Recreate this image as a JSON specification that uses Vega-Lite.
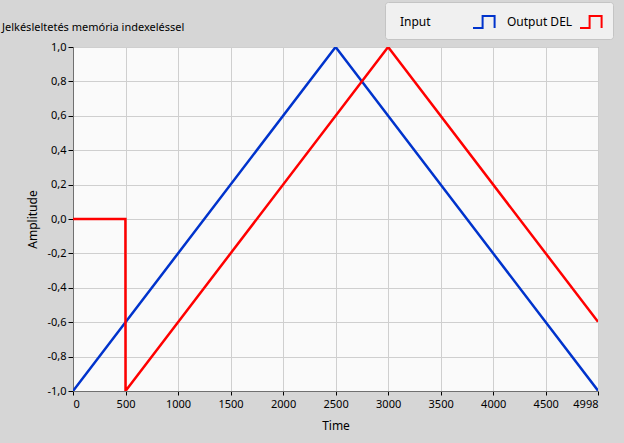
{
  "$schema": "https://vega.github.io/schema/vega-lite/v6.json",
  "width": 525,
  "height": 344,
  "autosize": "none",
  "padding": {"left": 73, "top": 47, "right": 26, "bottom": 52},
  "background": "#d6d6d6",
  "title": {
    "text": "Jelkésleltetés memória indexeléssel",
    "anchor": "start",
    "frame": "group",
    "dx": -71,
    "dy": 45,
    "offset": 14,
    "fontSize": 11,
    "fontWeight": "normal",
    "font": "Noto Sans",
    "color": "#000000"
  },
  "data": {
    "values": [
      {"series": "Input", "t": 0, "v": -1.0, "o": 0},
      {"series": "Input", "t": 2500, "v": 1.0, "o": 1},
      {"series": "Input", "t": 4998, "v": -0.998, "o": 2},
      {"series": "Output DEL", "t": 0, "v": 0.0, "o": 0},
      {"series": "Output DEL", "t": 499, "v": 0.0, "o": 1},
      {"series": "Output DEL", "t": 500, "v": -1.0, "o": 2},
      {"series": "Output DEL", "t": 3000, "v": 1.0, "o": 3},
      {"series": "Output DEL", "t": 4998, "v": -0.598, "o": 4}
    ]
  },
  "mark": {"type": "line", "strokeWidth": 2.5, "clip": true},
  "encoding": {
    "x": {
      "field": "t",
      "type": "quantitative",
      "title": "Time",
      "scale": {"domain": [0, 4998], "nice": false, "zero": false},
      "axis": {
        "values": [0, 500, 1000, 1500, 2000, 2500, 3000, 3500, 4000, 4500, 4998],
        "format": "d",
        "labelFont": "Noto Sans",
        "labelFontSize": 11,
        "labelColor": "#000000",
        "labelPadding": 3,
        "tickColor": "#000000",
        "tickSize": 4,
        "domainColor": "#707070",
        "gridColor": "#cfcfcf",
        "titleFont": "Noto Sans",
        "titleFontSize": 12,
        "titleFontWeight": "normal",
        "titleColor": "#000000",
        "titlePadding": 11
      }
    },
    "y": {
      "field": "v",
      "type": "quantitative",
      "title": "Amplitude",
      "scale": {"domain": [-1, 1], "nice": false},
      "axis": {
        "values": [-1, -0.8, -0.6, -0.4, -0.2, 0, 0.2, 0.4, 0.6, 0.8, 1],
        "labelExpr": "replace((datum.value < -0.0001 ? '-' : '') + format(abs(datum.value), '.1f'), '.', ',')",
        "labelFont": "Noto Sans",
        "labelFontSize": 11,
        "labelColor": "#000000",
        "labelPadding": 2,
        "tickColor": "#000000",
        "tickSize": 5,
        "domainColor": "#707070",
        "gridColor": "#cfcfcf",
        "titleFont": "Noto Sans",
        "titleFontSize": 12,
        "titleFontWeight": "normal",
        "titleColor": "#000000",
        "titlePadding": 7
      }
    },
    "order": {"field": "o", "type": "quantitative"},
    "color": {
      "field": "series",
      "type": "nominal",
      "scale": {"domain": ["Input", "Output DEL"], "range": ["#0033cc", "#ff0000"]},
      "legend": {
        "title": null,
        "orient": "none",
        "legendX": 312,
        "legendY": -45,
        "direction": "horizontal",
        "fillColor": "#f0f0f0",
        "strokeColor": "#c4c4c4",
        "cornerRadius": 3,
        "padding": 7,
        "symbolType": "M-1,0.5H-0.2V-0.5H0.8V0.5",
        "symbolSize": 576,
        "symbolStrokeWidth": 2,
        "symbolFillColor": "transparent",
        "symbolOffset": 80,
        "labelOffset": -98,
        "labelFont": "Noto Sans",
        "labelFontSize": 12,
        "labelColor": "#000000",
        "gridAlign": "all",
        "columnPadding": 0
      }
    }
  },
  "config": {
    "view": {"fill": "#fafafa", "stroke": "#9a9a9a"}
  }
}
